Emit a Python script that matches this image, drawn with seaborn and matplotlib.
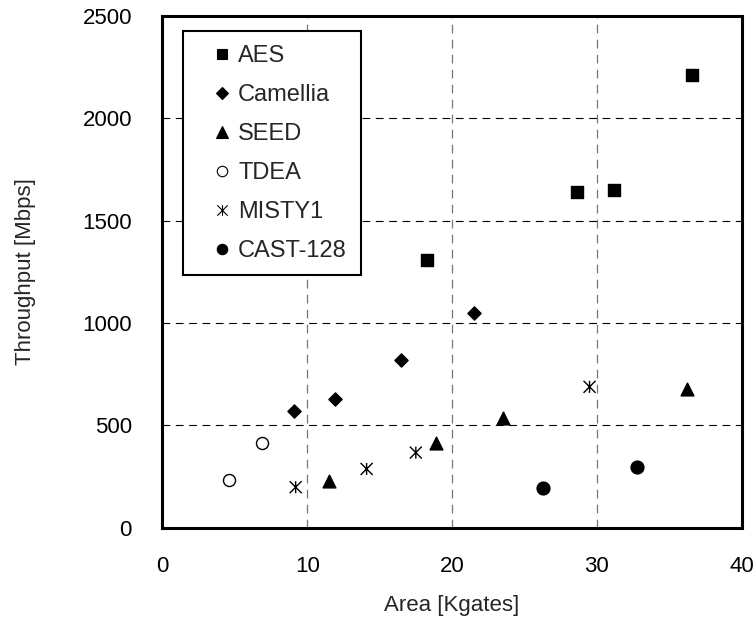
import numpy as np
import pandas as pd
import matplotlib
matplotlib.use("Agg")
import matplotlib.pyplot as plt
from matplotlib.lines import Line2D
from matplotlib.path import Path
import seaborn as sns

# data (area in Kgates, throughput in Mbps)
aes_area = [18.3, 28.6, 31.2, 36.6]
aes_tp = [1308, 1640, 1651, 2209]
camellia_area = [9.1, 11.9, 16.5, 21.5]
camellia_tp = [571, 629, 817, 1048]
seed_area = [11.5, 18.9, 23.5, 36.2]
seed_tp = [227, 416, 538, 677]
tdea_area = [4.6, 6.9]
tdea_tp = [232, 416]
misty1_area = [9.2, 14.1, 17.5, 29.5]
misty1_tp = [198, 287, 367, 688]
cast128_area = [26.3, 32.8]
cast128_tp = [194, 296]

ciphers = ["AES", "Camellia", "SEED", "TDEA", "MISTY1", "CAST-128"]
areas = [aes_area, camellia_area, seed_area, tdea_area, misty1_area, cast128_area]
tps = [aes_tp, camellia_tp, seed_tp, tdea_tp, misty1_tp, cast128_tp]

df = pd.concat([pd.DataFrame({"cipher": c, "area": a, "tp": t})
                for c, a, t in zip(ciphers, areas, tps)], ignore_index=True)

# X with a vertical stroke, like the Excel asterisk marker
star = Path([(-1, -1), (1, 1), (-1, 1), (1, -1), (0, -1), (0, 1)],
            [Path.MOVETO, Path.LINETO] * 3)

# marker, size, facecolor
styles = {
    "AES": ("s", 75, "black"),
    "Camellia": ("D", 45, "black"),
    "SEED": ("^", 85, "black"),
    "TDEA": ("o", 75, "white"),
    "MISTY1": (star, 75, "none"),
    "CAST-128": ("o", 85, "black"),
}

sns.set_style("white")
plt.rcParams["font.family"] = ["Liberation Sans", "DejaVu Sans"]

fig = plt.figure(figsize=(7.55, 6.29), dpi=100)
ax = fig.add_axes([0.2152, 0.161, 0.767, 0.814])

for c in ciphers:
    m, s, fc = styles[c]
    sub = df[df.cipher == c]
    sns.scatterplot(x="area", y="tp", data=sub, marker=m, s=s,
                    facecolor=fc, edgecolor="black", linewidth=1.0,
                    ax=ax, zorder=3)

ax.set_xlim(0, 40)
ax.set_ylim(0, 2500)
ax.set_xticks([0, 10, 20, 30, 40])
ax.set_yticks([0, 500, 1000, 1500, 2000, 2500])

# dashed grid: vertical lines grey, horizontal lines black
ax.xaxis.grid(True, linestyle=(0, (7, 5)), color="#777777", linewidth=0.9)
ax.yaxis.grid(True, linestyle=(0, (7, 5)), color="black", linewidth=0.8)
ax.set_axisbelow(True)

for sp in ax.spines.values():
    sp.set_color("black")
    sp.set_linewidth(2.2)

ax.tick_params(axis="x", length=0, pad=20, labelsize=16, colors="black")
ax.tick_params(axis="y", length=0, pad=22, labelsize=16, colors="black")
ax.set_xlabel("Area [Kgates]", fontsize=16, labelpad=13)
ax.set_ylabel("Throughput [Mbps]", fontsize=16, labelpad=33)

handles = []
for c in ciphers:
    m, s, fc = styles[c]
    if c == "MISTY1":
        h = Line2D([], [], linestyle="none", marker=m, markersize=7.5,
                   markerfacecolor="none", markeredgecolor="black",
                   markeredgewidth=0.8)
    else:
        h = Line2D([], [], linestyle="none", marker=m,
                   markersize={"s": 7.5, "D": 6, "^": 8.5, "o": 7.5}[m],
                   markerfacecolor=fc, markeredgecolor="black", markeredgewidth=0.8)
    handles.append(h)

leg = ax.legend(handles, ciphers, loc="upper left", bbox_to_anchor=(0.036, 0.970),
                borderaxespad=0, fontsize=17, frameon=True, fancybox=False,
                edgecolor="black", framealpha=1, borderpad=0.58,
                handlelength=2.15, handletextpad=-0.41, labelspacing=0.72)
leg.get_frame().set_linewidth(1.5)

fig.savefig("out.png", dpi=100)
